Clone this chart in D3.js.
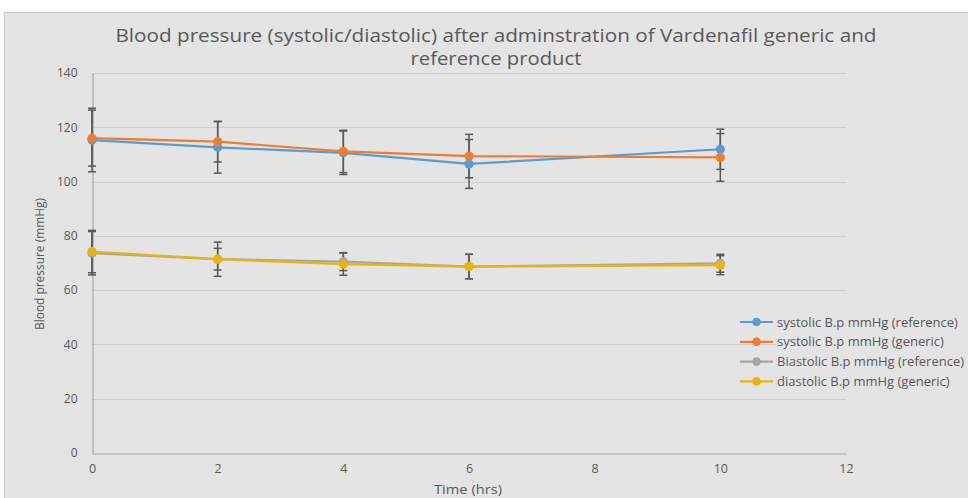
<!DOCTYPE html>
<html>
<head>
<meta charset="utf-8">
<script src="https://cdn.jsdelivr.net/npm/d3@7"></script>
<style>
  html, body { margin: 0; padding: 0; background: #ffffff; }
  svg { display: block; }
  text { font-family: "Open Sans", "Liberation Sans", sans-serif; fill: #595959; }
</style>
</head>
<body>
<svg id="chart" width="968" height="498"></svg>
<script>
// Time points (hours)
const times = [0, 2, 4, 6, 10];

// Mean blood pressure (mmHg)
const systolicRef = [115.3, 112.6, 110.6, 106.5, 111.9];
const systolicGen = [116.0, 114.7, 111.1, 109.4, 108.9];
const diastolicRef = [73.6, 71.4, 70.5, 68.7, 69.9];
const diastolicGen = [74.2, 71.4, 69.6, 68.7, 69.2];

// Standard deviations (error bars)
const systolicRefSD = [11.7, 9.5, 8.0, 9.0, 7.4];
const systolicGenSD = [10.3, 7.5, 7.8, 8.0, 8.8];
const diastolicRefSD = [8.0, 6.3, 3.3, 4.5, 3.3];
const diastolicGenSD = [7.8, 4.0, 4.1, 4.5, 3.5];

const seriesNames = [
  "systolic B.p mmHg (reference)",
  "systolic B.p mmHg (generic)",
  "Biastolic B.p mmHg (reference)",
  "diastolic B.p mmHg (generic)"
];
const seriesColors = ["#5b9bd5", "#ed7d31", "#a5a5a5", "#e8b411"];

const xTicks = [0, 2, 4, 6, 8, 10, 12];
const yTicks = [0, 20, 40, 60, 80, 100, 120, 140];

const titleLines = [
  "Blood pressure (systolic/diastolic) after adminstration of Vardenafil generic and",
  "reference product"
];
const xTitle = "Time (hrs)";
const yTitle = "Blood pressure (mmHg)";

const series = [
  { name: seriesNames[0], values: systolicRef, sd: systolicRefSD, color: seriesColors[0] },
  { name: seriesNames[1], values: systolicGen, sd: systolicGenSD, color: seriesColors[1] },
  { name: seriesNames[2], values: diastolicRef, sd: diastolicRefSD, color: seriesColors[2] },
  { name: seriesNames[3], values: diastolicGen, sd: diastolicGenSD, color: seriesColors[3] }
];

const svg = d3.select("#chart");

// Chart area background with thin border
svg.append("rect")
  .attr("x", 4.5).attr("y", 12.5)
  .attr("width", 980).attr("height", 500)
  .attr("fill", "#e4e4e4")
  .attr("stroke", "#c9c9c9");

const plot = { left: 92, right: 846, top: 73, bottom: 453 };

const x = d3.scaleLinear().domain([0, 12]).range([plot.left, plot.right]);
const y = d3.scaleLinear().domain([0, 140]).range([plot.bottom, plot.top]);

// Title
const titleWidths = [761, 171];
titleLines.forEach((t, i) => {
  svg.append("text")
    .attr("x", 496)
    .attr("y", 42 + i * 23)
    .attr("text-anchor", "middle")
    .attr("font-size", 18.5)
    .attr("textLength", titleWidths[i])
    .attr("lengthAdjust", "spacingAndGlyphs")
    .text(t);
});

// Horizontal gridlines
svg.append("g")
  .selectAll("line")
  .data(yTicks.filter(d => d > 0))
  .join("line")
  .attr("x1", plot.left).attr("x2", plot.right)
  .attr("y1", d => Math.round(y(d)) + 0.5).attr("y2", d => Math.round(y(d)) + 0.5)
  .attr("stroke", "#d0d0d0")
  .attr("stroke-width", 1.2);

// Y axis
const yAxis = svg.append("g")
  .attr("transform", `translate(${plot.left + 0.5},0)`)
  .call(d3.axisLeft(y).tickValues(yTicks).tickSize(0).tickPadding(15));
yAxis.select(".domain").attr("stroke", "#a6a6a6").attr("stroke-width", 1.2);
yAxis.selectAll("text").attr("font-size", 12).attr("fill", "#595959")
  .style("font-family", "'Open Sans', sans-serif");

// X axis
const xAxis = svg.append("g")
  .attr("transform", `translate(0,${plot.bottom + 0.5})`)
  .call(d3.axisBottom(x).tickValues(xTicks).tickSize(0).tickPadding(11));
xAxis.select(".domain").attr("stroke", "#a6a6a6").attr("stroke-width", 1.2);
xAxis.selectAll("text").attr("font-size", 12.5).attr("fill", "#595959")
  .style("font-family", "'Open Sans', sans-serif");

// Axis titles
svg.append("text")
  .attr("x", 468).attr("y", 494)
  .attr("text-anchor", "middle")
  .attr("font-size", 13)
  .attr("textLength", 68)
  .attr("lengthAdjust", "spacingAndGlyphs")
  .text(xTitle);

svg.append("text")
  .attr("transform", `translate(44,264) rotate(-90)`)
  .attr("text-anchor", "middle")
  .attr("font-size", 12)
  .attr("textLength", 132)
  .attr("lengthAdjust", "spacingAndGlyphs")
  .text(yTitle);

// Error bars
const capHalf = 4;
const errG = svg.append("g")
  .attr("stroke", "#595959")
  .attr("stroke-width", 1.5)
  .attr("fill", "none");
series.forEach(s => {
  times.forEach((t, i) => {
    const cx = x(t);
    const hi = y(s.values[i] + s.sd[i]);
    const lo = y(s.values[i] - s.sd[i]);
    errG.append("line").attr("x1", cx).attr("x2", cx).attr("y1", hi).attr("y2", lo);
    errG.append("line").attr("x1", cx - capHalf).attr("x2", cx + capHalf).attr("y1", hi).attr("y2", hi);
    errG.append("line").attr("x1", cx - capHalf).attr("x2", cx + capHalf).attr("y1", lo).attr("y2", lo);
  });
});

// Series lines and markers
const line = d3.line()
  .x((d, i) => x(times[i]))
  .y(d => y(d));

series.forEach(s => {
  const g = svg.append("g");
  g.append("path")
    .datum(s.values)
    .attr("d", line)
    .attr("fill", "none")
    .attr("stroke", s.color)
    .attr("stroke-width", 2.2)
    .attr("stroke-linejoin", "round");
  g.selectAll("circle")
    .data(s.values)
    .join("circle")
    .attr("cx", (d, i) => x(times[i]))
    .attr("cy", d => y(d))
    .attr("r", 4.6)
    .attr("fill", s.color);
});

// Legend
const legend = svg.append("g").attr("transform", "translate(740,322)");
legend.append("rect")
  .attr("x", 36).attr("y", -10)
  .attr("width", 200).attr("height", 78)
  .attr("fill", "#e4e4e4");
series.forEach((s, i) => {
  const row = legend.append("g").attr("transform", `translate(0,${i * 19.8})`);
  row.append("line")
    .attr("x1", 0).attr("x2", 33)
    .attr("y1", 0).attr("y2", 0)
    .attr("stroke", s.color).attr("stroke-width", 2.2);
  row.append("circle")
    .attr("cx", 16.5).attr("cy", 0).attr("r", 4.3)
    .attr("fill", s.color);
  row.append("text")
    .attr("x", 37).attr("y", 0)
    .attr("dy", "0.35em")
    .attr("font-size", 13)
    .text(s.name);
});
</script>
</body>
</html>
